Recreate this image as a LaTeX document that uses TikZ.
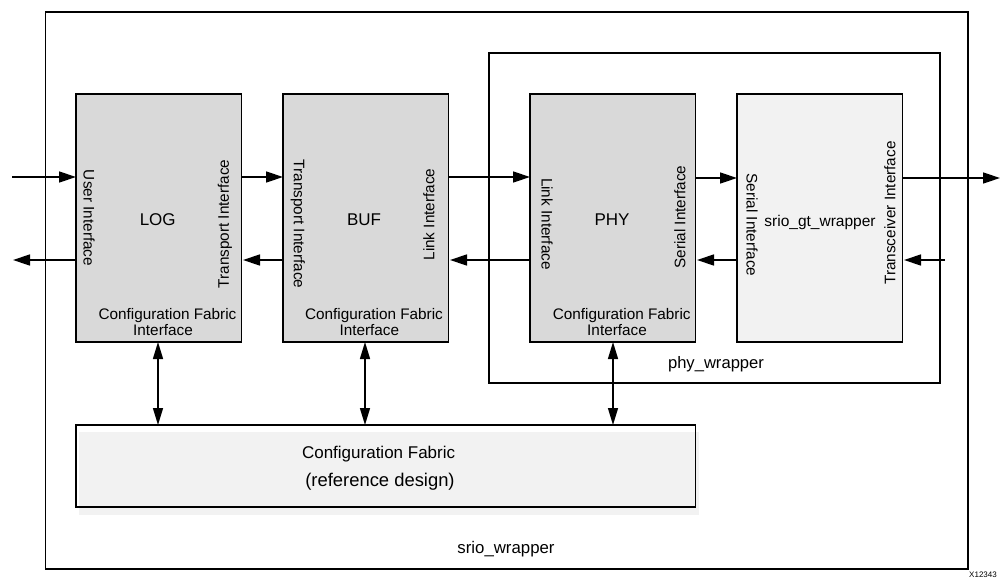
\documentclass[tikz,border=0pt]{standalone}
\usepackage{fontspec}
\setmainfont{Liberation Sans}
\usetikzlibrary{arrows.meta}
\tikzset{
  x=1pt,y=-1pt,
  block/.style={draw=black,line width=1.4pt,inner sep=0pt,outer sep=0pt,anchor=north west},
  core/.style={block,fill=coregray,minimum width=165.5pt,minimum height=248pt},
  wrapbox/.style={block,fill=white},
  lbl/.style={inner sep=0pt,text=black,font=\fontsize{15.3pt}{17pt}\selectfont},
  big/.style={inner sep=0pt,text=black,font=\fontsize{17pt}{19pt}\selectfont},
  up/.style={lbl,rotate=90},
  down/.style={lbl,rotate=-90},
  flow/.style={line width=1.4pt,-{Triangle[length=17pt,width=11pt]},shorten >=0pt},
  both/.style={line width=1.4pt,{Triangle[length=17pt,width=10pt]}-{Triangle[length=17pt,width=10pt]}}
}
\definecolor{coregray}{HTML}{D9D9D9}
\definecolor{palegray}{HTML}{F2F2F2}
\begin{document}
\begin{tikzpicture}
\useasboundingbox (0,0) rectangle (1001,578);
\clip (0,0) rectangle (1001,578);
\fill[white] (0,0) rectangle (1001,578);
% wrappers
\node[wrapbox,minimum width=922.5pt,minimum height=557pt] (srio) at (45.5,12) {};
\node[wrapbox,minimum width=451pt,minimum height=330pt] (phyw) at (489,53) {};
% core blocks
\node[core] (log) at (76,94) {};
\node[core] (buf) at (283,94) {};
\node[core] (phy) at (530,94) {};
\node[core,fill=palegray] (gt) at (737,94) {};
% configuration fabric with its offset fill
\fill[palegray] (79,432) rectangle (699,515);
\node[block,minimum width=619.5pt,minimum height=82pt] (cfg) at (76,425) {};
% free ends
\coordinate (inA) at (12,177);
\coordinate (outA) at (13,260);
\coordinate (outB) at (1000,178);
\coordinate (inB) at (945,260);
% horizontal connectors
\draw[flow] (inA) -- (log.west |- inA);
\draw[flow] (log.west |- outA) -- (outA);
\draw[flow] (log.east |- inA) -- (buf.west |- inA);
\draw[flow] (buf.west |- outA) -- ([xshift=1.5pt]log.east |- outA);
\draw[flow] (buf.east |- inA) -- (phy.west |- inA);
\draw[flow] (phy.west |- outA) -- ([xshift=1.5pt]buf.east |- outA);
\draw[flow] (phy.east |- outB) -- (gt.west |- outB);
\draw[flow] (gt.west |- outA) -- ([xshift=1.5pt]phy.east |- outA);
\draw[flow] (gt.east |- outB) -- (outB);
\draw[flow] (inB) -- ([xshift=1.5pt]gt.east |- inB);
% vertical connectors
\coordinate (vA) at (158,0);
\coordinate (vB) at (365,0);
\coordinate (vC) at (613,0);
\draw[both] (log.south -| vA) -- (cfg.north -| vA);
\draw[both] (buf.south -| vB) -- (cfg.north -| vB);
\draw[both] (phy.south -| vC) -- (cfg.north -| vC);
% labels
\node[big] (tlog) at (157.7,220) {LOG};
\node[big] (tbuf) at (364,220) {BUF};
\node[big] (tphy) at (612,220) {PHY};
\node[lbl,font=\fontsize{15.5pt}{17pt}\selectfont] (tgt) at (820,222.5) {srio\_gt\_wrapper};
\node[down] (l1) at (89,218) {User Interface};
\node[up] (l2) at (225,224) {Transport Interface};
\node[down] (l3) at (297.7,224) {Transport Interface};
\node[up] (l4) at (429,214.5) {Link Interface};
\node[down] (l5) at (547,224) {Link Interface};
\node[up] (l6) at (680,217) {Serial Interface};
\node[down] (l7) at (752,225) {Serial Interface};
\node[up] (l8) at (890,213) {Transceiver Interface};
\node[lbl] (c1a) at (167.5,315.5) {Configuration Fabric};
\node[lbl] (c1b) at (163,330.5) {Interface};
\node[lbl] (c2a) at (374,315.5) {Configuration Fabric};
\node[lbl] (c2b) at (369.3,330.5) {Interface};
\node[lbl] (c3a) at (621.7,315.5) {Configuration Fabric};
\node[lbl] (c3b) at (617,330.5) {Interface};
\node[lbl,font=\fontsize{16.6pt}{18pt}\selectfont] (tphyw) at (716,364.5) {phy\_wrapper};
\node[big] (tcfg1) at (378.6,454.5) {Configuration Fabric};
\node[big,font=\fontsize{18.4pt}{20pt}\selectfont] (tcfg2) at (380,482) {(reference design)};
\node[lbl,font=\fontsize{16.8pt}{18pt}\selectfont] (tsrio) at (506,549.5) {srio\_wrapper};
\node[inner sep=0pt,anchor=base east,font=\fontsize{8pt}{9pt}\selectfont] (code) at (997,577.6) {X12343};
\end{tikzpicture}
\end{document}
